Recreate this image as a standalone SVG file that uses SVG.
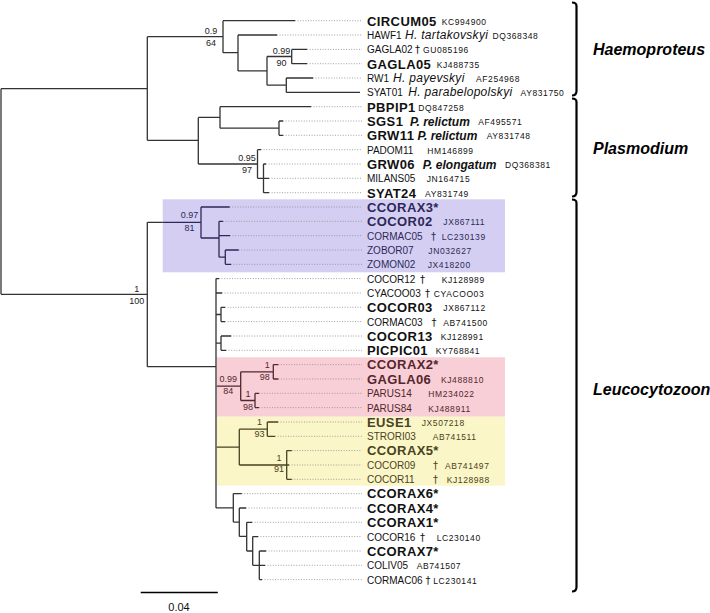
<svg xmlns="http://www.w3.org/2000/svg" width="710" height="613" viewBox="0 0 710 613">
<style>
text{font-family:"Liberation Sans",Arial,sans-serif;fill:#111}
.b{font-size:13px;font-weight:bold;letter-spacing:0.4px}
.r{font-size:10px}
.a{font-size:8.5px;letter-spacing:0.6px}
.i{font-size:12px;font-style:italic;letter-spacing:0.3px}
.bi{font-size:12px;font-style:italic;font-weight:bold}
.d{font-size:10px;font-family:"DejaVu Sans",sans-serif}
.s{font-size:9px;text-anchor:middle;fill:#222}
.g{font-size:16px;font-style:italic;font-weight:bold;fill:#000}
.t{fill:none;stroke:#333;stroke-width:1.3}
.tp{fill:none;stroke:#2d2858;stroke-width:1.3}
.tk{fill:none;stroke:#55262c;stroke-width:1.3}
.ty{fill:none;stroke:#484320;stroke-width:1.3}
.dot{fill:none;stroke:#8a8a8a;stroke-width:0.8;stroke-dasharray:1 1.6}
.br{fill:none;stroke:#000;stroke-width:2.2}
.pu text{fill:#2d2858}
.pk text{fill:#55262c}
.ye text{fill:#484320}
</style>
<rect width="710" height="613" fill="#fff"/>
<g id="boxes">
<rect x="162.7" y="199.3" width="342.3" height="73" fill="#d4cff2"/>
<rect x="216.7" y="357.3" width="288.3" height="59.4" fill="#f8cfd7"/>
<rect x="216.7" y="416.7" width="288.3" height="69" fill="#fbf6c8"/>
</g>
<g id="connectors">
<path class="dot" d="M295 20.7H362M277 35H362M307 49.4H362M307 63.7H362M313 78H362M311 106.7H362M283 121H362M283 135.3H362M261 149.7H362M266 164H362M269 178.3H362M269 192.7H362M229.7 207H362M223 221.3H362M230 235.7H362M238.7 250H362M231 264.3H362M219 278.6H362M222 293H362M225 307.3H362M225 321.6H362M231 336H362M226 350.3H362M278.3 364.6H362M278.3 379H362M259 393.3H362M259 407.6H362M278 422H362M275 436.3H362M291.7 450.6H362M289 465H362M291.7 479.3H362M241.7 493.6H362M246 508H362M252 522.3H362M258 536.6H362M266 551H362M265 565.3H362M262 579.6H362"/>
<path class="t" d="M1 88.7V294.3M1 88.7H147.3M1 294.3H147.3
M147.3 36.7V140.3M147.3 36.7H223M147.3 140.3H198.3
M223 20.7V52.7M223 20.7H295M223 52.7H238
M238 35V70.9M238 35H277M238 70.9H267
M267 56.5V85.2M267 56.5H291.7M267 85.2H286.3
M291.7 49.4V63.7M291.7 49.4H307M291.7 63.7H307
M286.3 78V92.4M286.3 78H313M286.3 92.4H360
M198.3 117.4V164M198.3 117.4H220M198.3 164H257.5
M220 106.7V128.2M220 106.7H311M220 128.2H279
M279 121V135.3M279 121H283M279 135.3H283
M257.5 149.7V178.3M257.5 149.7H261M257.5 178.3H263.5
M263.5 164V192.7M263.5 164H266M263.5 178.3H269M263.5 192.7H269
M147.3 222.3V366.7M147.3 222.3H162.7M147.3 366.7H216
M216 278.6V507.9M216 278.6H219M216 293H222M216 314.5H221M216 343.2H221
M221 307.3V321.6M221 307.3H225M221 321.6H225
M221 336V350.3M221 336H231M221 350.3H226
M216 507.9H233.3
M233.3 493.6V522.1M233.3 493.6H241.7M233.3 522.1H239.3
M239.3 508V536.4M239.3 508H246M239.3 536.4H246.7
M246.7 522.3V551M246.7 522.3H252M246.7 551H252.7
M252.7 536.6V565.3M252.7 536.6H258M252.7 565.3H259.3
M259.3 551V579.6M259.3 551H266M259.3 565.3H265M259.3 579.6H262"/>
<path class="tp" d="M162.7 222.3H201M201 207V238M201 207H229.7M201 238H219
M219 221.3V257.2M219 221.3H223M219 235.7H230M219 257.2H225.3
M225.3 250V264.3M225.3 250H238.7M225.3 264.3H231"/>
<path class="tk" d="M216.7 386.1H240.7M240.7 371.8V400.5M240.7 371.8H273.3M240.7 400.5H255
M273.3 364.6V379M273.3 364.6H278.3M273.3 379H278.3
M255 393.3V407.6M255 393.3H259M255 407.6H259"/>
<path class="ty" d="M216.7 447.1H239.3M239.3 429.2V465M239.3 429.2H267.3M239.3 465H286.7
M267.3 422V436.3M267.3 422H278M267.3 436.3H275
M286.7 450.6V479.3M286.7 450.6H291.7M286.7 465H289M286.7 479.3H291.7"/>
</g>
<g id="support">
<text class="s" x="211" y="33.5">0.9</text><text class="s" x="211" y="45.5">64</text>
<text class="s" x="281.5" y="54">0.99</text><text class="s" x="281.5" y="65.5">90</text>
<text class="s" x="247" y="160.7">0.95</text><text class="s" x="247" y="172.7">97</text>
<text class="s" x="189.5" y="218.3" style="fill:#2d2858">0.97</text><text class="s" x="189.5" y="231" style="fill:#2d2858">81</text>
<text class="s" x="136.7" y="291.7">1</text><text class="s" x="136.7" y="304">100</text>
<text class="s" x="228.3" y="381.7" style="fill:#55262c">0.99</text><text class="s" x="228.3" y="394" style="fill:#55262c">84</text>
<text class="s" x="267.2" y="368.3" style="fill:#55262c">1</text><text class="s" x="264.7" y="380" style="fill:#55262c">98</text>
<text class="s" x="248" y="397.3" style="fill:#55262c">1</text><text class="s" x="248" y="410" style="fill:#55262c">98</text>
<text class="s" x="259.5" y="425" style="fill:#484320">1</text><text class="s" x="259.5" y="436.7" style="fill:#484320">93</text>
<text class="s" x="279" y="460.7" style="fill:#484320">1</text><text class="s" x="279" y="471.7" style="fill:#484320">91</text>
</g>
<g id="leaf-CIRCUM05"><text x="367" y="25.5"><tspan class="b">CIRCUM05</tspan><tspan class="a" x="441.7" dy="-1">KC994900</tspan></text></g>
<g id="leaf-HAWF1"><text x="367" y="39"><tspan class="r">HAWF1</tspan><tspan class="i" x="405">H. tartakovskyi</tspan><tspan class="a" x="492.5">DQ368348</tspan></text></g>
<g id="leaf-GAGLA02"><text x="367" y="53.4"><tspan class="r">GAGLA02</tspan><tspan class="d" x="415">†</tspan><tspan class="a" x="423">GU085196</tspan></text></g>
<g id="leaf-GAGLA05"><text x="367" y="68.5"><tspan class="b">GAGLA05</tspan><tspan class="a" x="436.7" dy="-1">KJ488735</tspan></text></g>
<g id="leaf-RW1"><text x="367" y="82"><tspan class="r">RW1</tspan><tspan class="i" x="393">H. payevskyi</tspan><tspan class="a" x="476">AF254968</tspan></text></g>
<g id="leaf-SYAT01"><text x="367" y="96.4"><tspan class="r">SYAT01</tspan><tspan class="i" x="408.3">H. parabelopolskyi</tspan><tspan class="a" x="520.5">AY831750</tspan></text></g>
<g id="leaf-PBPIP1"><text x="367" y="111.5"><tspan class="b">PBPIP1</tspan><tspan class="a" x="418.3" dy="-1">DQ847258</tspan></text></g>
<g id="leaf-SGS1"><text x="367" y="125.8"><tspan class="b">SGS1</tspan><tspan class="bi" x="410">P. relictum</tspan><tspan class="a" x="478.3" dy="-1">AF495571</tspan></text></g>
<g id="leaf-GRW11"><text x="367" y="140.1"><tspan class="b">GRW11</tspan><tspan class="bi" x="417.5">P. relictum</tspan><tspan class="a" x="486.7" dy="-1">AY831748</tspan></text></g>
<g id="leaf-PADOM11"><text x="367" y="153.7"><tspan class="r">PADOM11</tspan><tspan class="a" x="427.3">HM146899</tspan></text></g>
<g id="leaf-GRW06"><text x="367" y="168.8"><tspan class="b">GRW06</tspan><tspan class="bi" x="422.7">P. elongatum</tspan><tspan class="a" x="505" dy="-1">DQ368381</tspan></text></g>
<g id="leaf-MILANS05"><text x="367" y="182.3"><tspan class="r">MILANS05</tspan><tspan class="a" x="426.7">JN164715</tspan></text></g>
<g id="leaf-SYAT24"><text x="367" y="197.5"><tspan class="b">SYAT24</tspan><tspan class="a" x="425" dy="-1">AY831749</tspan></text></g>
<g class="pu">
<g id="leaf-CCORAX3"><text x="367" y="211.8" class="b">CCORAX3*</text></g>
<g id="leaf-COCOR02"><text x="367" y="226.1"><tspan class="b">COCOR02</tspan><tspan class="a" x="443.3" dy="-1">JX867111</tspan></text></g>
<g id="leaf-CORMAC05"><text x="367" y="239.7"><tspan class="r">CORMAC05</tspan><tspan class="d" x="431">†</tspan><tspan class="a" x="441.7">LC230139</tspan></text></g>
<g id="leaf-ZOBOR07"><text x="367" y="254"><tspan class="r">ZOBOR07</tspan><tspan class="a" x="428.3">JN032627</tspan></text></g>
<g id="leaf-ZOMON02"><text x="367" y="268.3"><tspan class="r">ZOMON02</tspan><tspan class="a" x="427.7">JX418200</tspan></text></g>
</g>
<g id="leaf-COCOR12"><text x="367" y="282.6"><tspan class="r">COCOR12</tspan><tspan class="d" x="420">†</tspan><tspan class="a" x="441.7">KJ128989</tspan></text></g>
<g id="leaf-CYACOO03"><text x="367" y="297"><tspan class="r">CYACOO03</tspan><tspan class="d" x="425">†</tspan><tspan class="a" x="433.8">CYACOO03</tspan></text></g>
<g id="leaf-COCOR03"><text x="367" y="312.1"><tspan class="b">COCOR03</tspan><tspan class="a" x="443.3" dy="-1">JX867112</tspan></text></g>
<g id="leaf-CORMAC03"><text x="367" y="325.6"><tspan class="r">CORMAC03</tspan><tspan class="d" x="431.5">†</tspan><tspan class="a" x="443.3">AB741500</tspan></text></g>
<g id="leaf-COCOR13"><text x="367" y="340.8"><tspan class="b">COCOR13</tspan><tspan class="a" x="440.7" dy="-1">KJ128991</tspan></text></g>
<g id="leaf-PICPIC01"><text x="367" y="355.1"><tspan class="b">PICPIC01</tspan><tspan class="a" x="435.7" dy="-1">KY768841</tspan></text></g>
<g class="pk">
<g id="leaf-CCORAX2"><text x="367" y="369.4" class="b">CCORAX2*</text></g>
<g id="leaf-GAGLA06"><text x="367" y="383.8"><tspan class="b">GAGLA06</tspan><tspan class="a" x="441" dy="-1">KJ488810</tspan></text></g>
<g id="leaf-PARUS14"><text x="367" y="397.3"><tspan class="r">PARUS14</tspan><tspan class="a" x="428.3">HM234022</tspan></text></g>
<g id="leaf-PARUS84"><text x="367" y="411.6"><tspan class="r">PARUS84</tspan><tspan class="a" x="428.3">KJ488911</tspan></text></g>
</g>
<g class="ye">
<g id="leaf-EUSE1"><text x="367" y="426.8"><tspan class="b">EUSE1</tspan><tspan class="a" x="421.7" dy="-1">JX507218</tspan></text></g>
<g id="leaf-STRORI03"><text x="367" y="440.3"><tspan class="r">STRORI03</tspan><tspan class="a" x="432.7">AB741511</tspan></text></g>
<g id="leaf-CCORAX5"><text x="367" y="455.4" class="b">CCORAX5*</text></g>
<g id="leaf-COCOR09"><text x="367" y="469"><tspan class="r">COCOR09</tspan><tspan class="d" x="433">†</tspan><tspan class="a" x="445">AB741497</tspan></text></g>
<g id="leaf-COCOR11"><text x="367" y="483.3"><tspan class="r">COCOR11</tspan><tspan class="d" x="433">†</tspan><tspan class="a" x="446.7">KJ128988</tspan></text></g>
</g>
<g id="leaf-CCORAX6"><text x="367" y="498.4" class="b">CCORAX6*</text></g>
<g id="leaf-CCORAX4"><text x="367" y="512.8" class="b">CCORAX4*</text></g>
<g id="leaf-CCORAX1"><text x="367" y="527.1" class="b">CCORAX1*</text></g>
<g id="leaf-COCOR16"><text x="367" y="540.6"><tspan class="r">COCOR16</tspan><tspan class="d" x="420">†</tspan><tspan class="a" x="436.7">LC230140</tspan></text></g>
<g id="leaf-CCORAX7"><text x="367" y="555.8" class="b">CCORAX7*</text></g>
<g id="leaf-COLIV05"><text x="367" y="569.3"><tspan class="r">COLIV05</tspan><tspan class="a" x="416.7">AB741507</tspan></text></g>
<g id="leaf-CORMAC06"><text x="367" y="583.6"><tspan class="r">CORMAC06</tspan><tspan class="d" x="425.5">†</tspan><tspan class="a" x="433.3">LC230141</tspan></text></g>
<g id="brackets">
<path class="br" d="M572 2.5Q576.5 2.5 576.5 6V91Q576.5 95.5 572 95.5"/>
<path class="br" d="M572 98.5Q576.5 98.5 576.5 102V192Q576.5 196.5 572 196.5"/>
<path class="br" d="M572 199.5Q576.5 199.5 576.5 203V587Q576.5 591.5 572 591.5"/>
</g>
<g id="genus-Haemoproteus"><text class="g" x="593" y="55">Haemoproteus</text></g>
<g id="genus-Plasmodium"><text class="g" x="593" y="154">Plasmodium</text></g>
<g id="genus-Leucocytozoon"><text class="g" x="593" y="395">Leucocytozoon</text></g>
<g id="scale">
<path d="M140.7 592.5H217.8" stroke="#000" stroke-width="1.3"/>
<text x="179" y="610.5" style="font-size:11px;text-anchor:middle">0.04</text>
</g>
</svg>
